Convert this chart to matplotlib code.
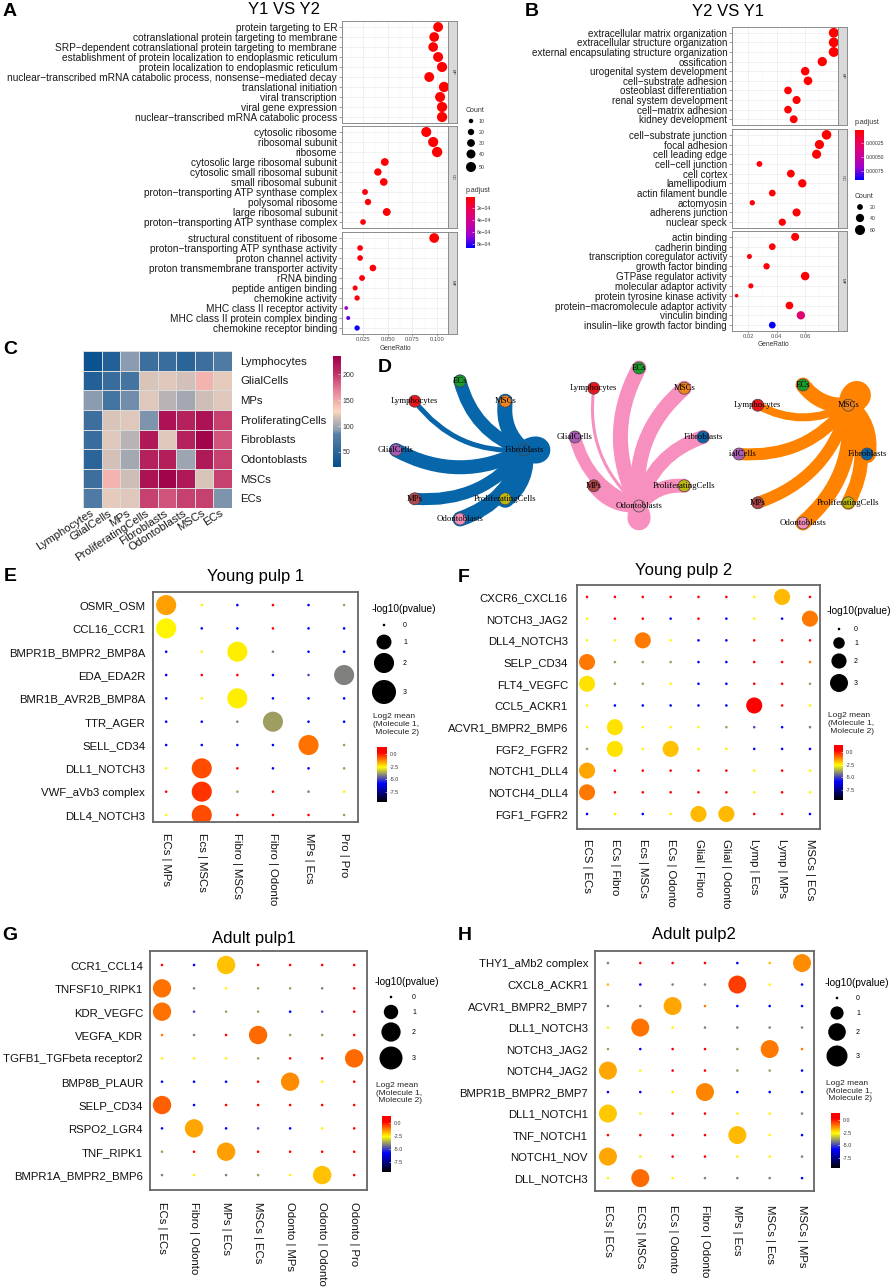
import numpy as np
import matplotlib
matplotlib.use('Agg')
import matplotlib.pyplot as plt
from matplotlib.colors import LinearSegmentedColormap, Normalize
from matplotlib.path import Path
from matplotlib.patches import PathPatch, Rectangle

plt.rcParams['font.family'] = ['Liberation Sans', 'DejaVu Sans']

W, H = 892, 1288

# ---------------- A : GO enrichment Y1 VS Y2 ----------------
a_bp_terms = ['protein targeting to ER',
              'cotranslational protein targeting to membrane',
              'SRP\u2212dependent cotranslational protein targeting to membrane',
              'establishment of protein localization to endoplasmic reticulum',
              'protein localization to endoplasmic reticulum',
              'nuclear\u2212transcribed mRNA catabolic process, nonsense\u2212mediated decay',
              'translational initiation', 'viral transcription', 'viral gene expression',
              'nuclear\u2212transcribed mRNA catabolic process']
a_bp_ratio = [0.101, 0.097, 0.096, 0.101, 0.105, 0.092, 0.107, 0.103, 0.105, 0.105]
a_bp_count = [48, 47, 46, 49, 51, 48, 53, 50, 52, 52]
a_bp_padj = [1.8e-5, 1.9e-5, 2.0e-5, 1.9e-5, 1.8e-5, 2.2e-5, 1.8e-5, 1.9e-5, 1.8e-5, 1.8e-5]

a_cc_terms = ['cytosolic ribosome', 'ribosomal subunit', 'ribosome',
              'cytosolic large ribosomal subunit', 'cytosolic small ribosomal subunit',
              'small ribosomal subunit', 'proton\u2212transporting ATP synthase complex',
              'polysomal ribosome', 'large ribosomal subunit',
              'proton\u2212transporting ATP synthase complex']
a_cc_ratio = [0.089, 0.096, 0.100, 0.047, 0.040, 0.046, 0.027, 0.030, 0.049, 0.025]
a_cc_count = [50, 51, 53, 30, 27, 29, 17, 20, 31, 16]
a_cc_padj = [1.8e-5, 1.8e-5, 1.8e-5, 2.5e-5, 3.0e-5, 2.6e-5, 4.5e-5, 4.0e-5, 2.4e-5, 5.0e-5]

a_mf_terms = ['structural constituent of ribosome', 'proton\u2212transporting ATP synthase activity',
              'proton channel activity', 'proton transmembrane transporter activity',
              'rRNA binding', 'peptide antigen binding', 'chemokine activity',
              'MHC class II receptor activity', 'MHC class II protein complex binding',
              'chemokine receptor binding']
a_mf_ratio = [0.097, 0.022, 0.022, 0.035, 0.024, 0.017, 0.019, 0.008, 0.010, 0.019]
a_mf_count = [47, 16, 16, 22, 17, 13, 14, 7, 8, 14]
a_mf_padj = [1.8e-5, 4.5e-5, 4.5e-5, 3.5e-5, 5.0e-5, 5.0e-5, 5.0e-5, 6.6e-4, 7.4e-4, 8.6e-4]

# ---------------- B : GO enrichment Y2 VS Y1 ----------------
b_bp_terms = ['extracellular matrix organization', 'extracellular structure organization',
              'external encapsulating structure organization', 'ossification',
              'urogenital system development', 'cell\u2212substrate adhesion',
              'osteoblast differentiation', 'renal system development',
              'cell\u2212matrix adhesion', 'kidney development']
b_bp_ratio = [0.080, 0.080, 0.080, 0.072, 0.060, 0.062, 0.048, 0.054, 0.048, 0.052]
b_bp_count = [57, 57, 58, 51, 43, 44, 35, 39, 35, 37]
b_bp_padj = [2.2e-5, 2.2e-5, 2.2e-5, 2.4e-5, 2.6e-5, 2.6e-5, 3.0e-5, 2.8e-5, 3.0e-5, 2.9e-5]

b_cc_terms = ['cell\u2212substrate junction', 'focal adhesion', 'cell leading edge',
              'cell\u2212cell junction', 'cell cortex', 'lamellipodium', 'actin filament bundle',
              'actomyosin', 'adherens junction', 'nuclear speck']
b_cc_ratio = [0.075, 0.070, 0.068, 0.028, 0.050, 0.058, 0.037, 0.023, 0.054, 0.044]
b_cc_count = [54, 50, 49, 20, 36, 41, 27, 17, 39, 31]
b_cc_padj = [2.2e-5, 2.3e-5, 2.3e-5, 4.0e-5, 3.0e-5, 2.8e-5, 3.5e-5, 4.5e-5, 2.9e-5, 3.3e-5]

b_mf_terms = ['actin binding', 'cadherin binding', 'transcription coregulator activity',
              'growth factor binding', 'GTPase regulator activity', 'molecular adaptor activity',
              'protein tyrosine kinase activity', 'protein\u2212macromolecule adaptor activity',
              'vinculin binding', 'insulin\u2212like growth factor binding']
b_mf_ratio = [0.053, 0.037, 0.021, 0.033, 0.060, 0.022, 0.012, 0.049, 0.057, 0.037]
b_mf_count = [38, 27, 15, 24, 43, 16, 8, 35, 41, 27]
b_mf_padj = [3.0e-5, 3.5e-5, 4.5e-5, 4.0e-5, 2.8e-5, 4.5e-5, 5.0e-5, 3.2e-5, 3.2e-4, 9.0e-4]

# ---------------- C : interaction count heatmap ----------------
cell_types = ['Lymphocytes', 'GlialCells', 'MPs', 'ProliferatingCells',
              'Fibroblasts', 'Odontoblasts', 'MSCs', 'ECs']
heat = [[25, 42, 92, 62, 60, 48, 62, 76],
        [42, 58, 68, 118, 120, 117, 145, 122],
        [92, 68, 88, 120, 108, 100, 116, 120],
        [62, 118, 120, 90, 222, 212, 222, 195],
        [60, 120, 108, 218, 120, 212, 232, 188],
        [48, 117, 100, 212, 214, 98, 218, 195],
        [62, 145, 116, 222, 232, 218, 118, 195],
        [76, 122, 120, 195, 188, 195, 195, 90]]

# ---------------- D : networks (edge width to hub, hub entry = self loop) ----------------
net_nodes = ['ECs', 'MSCs', 'Fibroblasts', 'ProliferatingCells',
             'Odontoblasts', 'MPs', 'GlialCells', 'Lymphocytes']
net_hubs = ['Fibroblasts', 'Odontoblasts', 'MSCs']
net1_w = [13, 15, 18, 18, 15, 12, 14, 5]
net2_w = [15, 15, 14, 14, 14, 13, 12, 3]
net3_w = [15, 20, 18, 14, 15, 12, 12, 8]

# ---------------- E-H : CellPhoneDB dot plots ----------------
# small dots: colour level code per cell, '.' = significant dot listed in *_sig
lvl = {'b': -5.8, 's': -4.85, 'g': -4.2, 'o': -3.8, 'y': -2.5, 'd': -1.8, 'n': -1.1, 'r': 0.3}

e_rows = ['OSMR_OSM', 'CCL16_CCR1', 'BMPR1B_BMPR2_BMP8A', 'EDA_EDA2R', 'BMR1B_AVR2B_BMP8A',
          'TTR_AGER', 'SELL_CD34', 'DLL1_NOTCH3', 'VWF_aVb3 complex', 'DLL4_NOTCH3']
e_cols = ['ECs | MPs', 'Ecs | MSCs', 'Fibro | MSCs', 'Fibro | Odonto', 'MPs | Ecs', 'Pro | Pro']
e_codes = ['. y b r b o', '. b b r b b', 'b y . g b b', 'b r r b s .', 'b y . b b b',
           'b b g . b b', 'b b b b . o', 'y . r b b o', 'r . o r g y', 'y . r r r o']
e_sig = [(0, 0, -1.5), (1, 0, -2.5), (2, 2, -2.4), (3, 5, -4.2), (4, 2, -2.4),
         (5, 3, -3.8), (6, 4, -1.0), (7, 1, -0.6), (8, 1, -0.3), (9, 1, -0.6)]
e_sig_p = 2.0

f_rows = ['CXCR6_CXCL16', 'NOTCH3_JAG2', 'DLL4_NOTCH3', 'SELP_CD34', 'FLT4_VEGFC', 'CCL5_ACKR1',
          'ACVR1_BMPR2_BMP6', 'FGF2_FGFR2', 'NOTCH1_DLL4', 'NOTCH4_DLL4', 'FGF1_FGFR2']
f_cols = ['ECS | ECs', 'ECs | Fibro', 'Ecs | MSCs', 'ECs | Odonto', 'Glial | Fibro',
          'Glial | Odonto', 'Lymp | Ecs', 'Lymp | MPs', 'MSCs | ECs']
f_codes = ['r r r r r r y . r', 'y r r b r b y b .', 'y y . y b b r r r',
           '. o o o b b r r n', '. o o y b b r r o', 'y b b b b b . r y',
           'y . y y y o s b g', 'o . y . y y b b b', '. r r r r r y r y',
           '. r r r r r y r y', 'b y b y . . r r b']
f_sig = [(0, 7, -1.8), (1, 8, -1.1), (2, 2, -1.1), (3, 0, -1.1), (4, 0, -2.3), (5, 6, 0.6),
         (6, 1, -2.3), (7, 1, -2.3), (7, 3, -1.9), (8, 0, -1.6), (9, 0, -1.1),
         (10, 4, -1.8), (10, 5, -1.8)]
f_sig_p = 2.3

g_rows = ['CCR1_CCL14', 'TNFSF10_RIPK1', 'KDR_VEGFC', 'VEGFA_KDR', 'TGFB1_TGFbeta receptor2',
          'BMP8B_PLAUR', 'SELP_CD34', 'RSPO2_LGR4', 'TNF_RIPK1', 'BMPR1A_BMPR2_BMP6']
g_cols = ['ECs | ECs', 'Fibro | Odonto', 'MPs | ECs', 'MSCs | ECs', 'Odonto | MPs',
          'Odonto | Odonto', 'Odonto | Pro']
g_codes = ['r b . r r r r', '. g y o o g r', '. s o o b s r', 'n g r . o o r',
           'y y y o r r .', 'b b b r . y r', '. b r r r r r', 'b . b s b y r',
           'o r . r r r r', 'g y g o y . r']
g_sig = [(0, 2, -1.9), (1, 0, -1.0), (2, 0, -1.0), (3, 3, -0.9), (4, 6, -0.9),
         (5, 4, -1.3), (6, 0, -0.8), (7, 1, -1.6), (8, 2, -1.5), (9, 5, -1.9)]
g_sig_p = 1.8

h_rows = ['THY1_aMb2 complex', 'CXCL8_ACKR1', 'ACVR1_BMPR2_BMP7', 'DLL1_NOTCH3', 'NOTCH3_JAG2',
          'NOTCH4_JAG2', 'BMPR1B_BMPR2_BMP7', 'DLL1_NOTCH1', 'TNF_NOTCH1', 'NOTCH1_NOV', 'DLL_NOTCH3']
h_cols = ['ECs | ECs', 'ECS | MSCs', 'ECs | Odonto', 'Fibro | Odonto', 'MPs | Ecs',
          'MSCs | Ecs', 'MSCs | MPs']
h_codes = ['g r r r b d .', 'd b g g . y b', 'g g . n b b b', 'y . y g g g g',
           'o b r r o . n', '. y r r o o b', 'b b y . b b b', '. y r r y y g',
           'r r r r . y b', '. y r r y y g', 'y . y g g g b']
h_sig = [(0, 6, -1.3), (1, 4, -0.4), (2, 2, -1.6), (3, 1, -1.0), (4, 5, -1.1), (5, 0, -1.6),
         (6, 3, -1.2), (7, 0, -2.0), (8, 4, -1.8), (9, 0, -1.6), (10, 1, -0.9)]
h_sig_p = 2.1


fig = plt.figure(figsize=(W / 100, H / 100), dpi=100)


def px_ax(x0, y0, x1, y1):
    return fig.add_axes([x0 / W, 1 - y1 / H, (x1 - x0) / W, (y1 - y0) / H])


def ftext(x, y, s, **kw):
    fig.text(x / W, 1 - y / H, s, **kw)


def d2s(d):
    # diameter in px -> scatter size in pt^2
    return (np.asarray(d) * 0.72) ** 2


def vbar(rect, cmap, vmin, vmax, ticks, labels, fs, invert=False):
    ax = px_ax(*rect)
    grad = np.linspace(vmin, vmax, 256).reshape(-1, 1)
    ax.imshow(grad, aspect='auto', cmap=cmap, vmin=vmin, vmax=vmax, origin='lower',
              extent=[0, 1, vmin, vmax])
    ax.set_ylim(vmin, vmax)
    if invert:
        ax.invert_yaxis()
    ax.set_xticks([])
    ax.yaxis.tick_right()
    ax.set_yticks(ticks)
    ax.set_yticklabels(labels, fontsize=fs)
    ax.tick_params(axis='y', direction='in', length=1.5, width=0.4, color='white',
                   labelcolor='#333333', pad=2)
    for s in ax.spines.values():
        s.set_visible(False)
    return ax


# ---------- GO dot plots (A and B) ----------
padj_cmap = LinearSegmentedColormap.from_list(
    'padj', ['#FF0000', '#EC0059', '#CF0098', '#A000D0', '#0000FF'])


def go_block(x0, x1, facets, strips, terms, ratios, counts, padj, xlim, major, major_lab,
             minor, norm, k, fs):
    for i, (y0, y1) in enumerate(facets):
        ax = px_ax(x0, y0, x1, y1)
        n = len(terms[i])
        ax.set_xlim(*xlim)
        ax.set_ylim(n - 0.4, -0.6)
        ax.set_xticks(major)
        ax.set_xticks(minor, minor=True)
        ax.set_yticks(range(n))
        ax.grid(True, which='major', color='#EBEBEB', lw=0.5)
        ax.grid(True, which='minor', axis='x', color='#F2F2F2', lw=0.3)
        ax.set_axisbelow(True)
        ax.scatter(ratios[i], range(n), s=d2s(k * np.sqrt(counts[i])), c=padj[i],
                   cmap=padj_cmap, norm=norm, linewidths=0, zorder=3)
        ax.set_yticklabels(terms[i], fontsize=fs, color='#1A1A1A')
        ax.tick_params(axis='y', length=2, width=0.4, color='#555555', pad=1.5)
        ax.tick_params(axis='x', which='minor', length=0)
        if i == len(facets) - 1:
            ax.set_xticklabels(major_lab, fontsize=4.2, color='#4D4D4D')
            ax.tick_params(axis='x', length=1.5, width=0.4, color='#555555', pad=1)
        else:
            ax.tick_params(axis='x', length=0, labelbottom=False)
        for s in ax.spines.values():
            s.set_color('#8C8C8C')
            s.set_linewidth(0.7)
        st = px_ax(x1, y0, x1 + 9, y1)
        st.set_facecolor('#D9D9D9')
        st.set_xticks([])
        st.set_yticks([])
        for s in st.spines.values():
            s.set_color('#8C8C8C')
            s.set_linewidth(0.7)
        st.text(0.5, 0.5, strips[i], rotation=270, ha='center', va='center',
                fontsize=3.2, color='#333333', transform=st.transAxes)


a_norm = Normalize(1.7e-5, 8.7e-4)
go_block(342, 448, [(21, 123), (126, 228), (232, 334)], ['BP', 'CC', 'MF'],
         [a_bp_terms, a_cc_terms, a_mf_terms], [a_bp_ratio, a_cc_ratio, a_mf_ratio],
         [a_bp_count, a_cc_count, a_mf_count], [a_bp_padj, a_cc_padj, a_mf_padj],
         (0.0037, 0.111), [0.025, 0.05, 0.075, 0.1], ['0.025', '0.050', '0.075', '0.100'],
         [0.0125, 0.0375, 0.0625, 0.0875], a_norm, 1.42, 7.3)
ftext(395, 349, 'GeneRatio', fontsize=4.8, color='#333333', ha='center', va='center')
ftext(284, 9, 'Y1 VS Y2', fontsize=12, ha='center', va='center')

b_norm = Normalize(2e-5, 9.1e-4)
go_block(732, 838, [(27, 125), (129, 228), (231, 331)], ['BP', 'CC', 'MF'],
         [b_bp_terms, b_cc_terms, b_mf_terms], [b_bp_ratio, b_cc_ratio, b_mf_ratio],
         [b_bp_count, b_cc_count, b_mf_count], [b_bp_padj, b_cc_padj, b_mf_padj],
         (0.0088, 0.083), [0.02, 0.04, 0.06], ['0.02', '0.04', '0.06'],
         [0.01, 0.03, 0.05, 0.07], b_norm, 1.3, 7.1)
ftext(773, 345, 'GeneRatio', fontsize=4.8, color='#333333', ha='center', va='center')
ftext(728, 11, 'Y2 VS Y1', fontsize=12, ha='center', va='center')

# legends of A and B
ftext(466, 110, 'Count', fontsize=5, color='#333333', va='center')
ftext(466, 190, 'p.adjust', fontsize=5, color='#333333', va='center')
vbar((466, 197, 474, 248), padj_cmap, 1.7e-5, 8.7e-4, [2e-4, 4e-4, 6e-4, 8e-4],
     ['2e\u221204', '4e\u221204', '6e\u221204', '8e\u221204'], 3.6, invert=True)
ftext(855, 123, 'p.adjust', fontsize=5, color='#333333', va='center')
vbar((855, 130, 863, 180), padj_cmap, 2e-5, 9.1e-4, [0.00025, 0.0005, 0.00075],
     ['0.00025', '0.00050', '0.00075'], 3.6, invert=True)
ftext(855, 196, 'Count', fontsize=5, color='#333333', va='center')

# ---------- C heatmap ----------
heat_cmap = LinearSegmentedColormap.from_list(
    'heat', [(0.0, '#06508F'), (0.3, '#5B81A6'), (0.33, '#8C9CB0'), (0.44, '#CDBDB8'),
             (0.5, '#FCD8BF'), (0.68, '#E8879C'), (0.85, '#BE2F64'), (1.0, '#A0004A')])
hax = px_ax(83, 351, 232, 508)
hax.pcolormesh(np.array(heat), cmap=heat_cmap, vmin=21, vmax=235,
               edgecolors='#DADADA', linewidth=0.6)
hax.set_xlim(0, 8)
hax.set_ylim(8, 0)
hax.set_xticks(np.arange(8) + 0.5)
hax.set_xticklabels(cell_types, rotation=33, ha='right', va='center',
                    rotation_mode='anchor', fontsize=8.1, color='#1A1A1A')
hax.yaxis.tick_right()
hax.set_yticks(np.arange(8) + 0.5)
hax.set_yticklabels(cell_types, fontsize=8.2, color='#1A1A1A')
hax.tick_params(length=0, pad=6)
hax.tick_params(axis='x', pad=3)
for s in hax.spines.values():
    s.set_visible(False)
vbar((333, 356, 340, 467), heat_cmap, 21, 235, [50, 100, 150, 200],
     ['50', '100', '150', '200'], 5)

# ---------- E-H dot plots ----------
cpdb_cmap = LinearSegmentedColormap.from_list(
    'cpdb', [(0, 'black'), (0.339, 'blue'), (0.633, 'yellow'), (0.899, 'red'), (1, 'red')])
cpdb_norm = Normalize(-9.5, 1.4)
dmin = 2.6


def dot_panel(box, rows, cols, codes, sig, sig_p, xlim, ylim, dmax, ypad, xpad):
    ax = px_ax(*box)
    xs, ys, ms, ps = [], [], [], []
    for j, row in enumerate(codes):
        for i, ch in enumerate(row.split()):
            if ch == '.':
                continue
            xs.append(i)
            ys.append(j)
            ms.append(lvl[ch])
            ps.append(0.0)
    for j, i, m in sig:
        xs.append(i)
        ys.append(j)
        ms.append(m)
        ps.append(sig_p)
    d = dmin + (dmax - dmin) * np.sqrt(np.array(ps) / 3)
    ax.scatter(xs, ys, s=d2s(d), c=ms, cmap=cpdb_cmap, norm=cpdb_norm, linewidths=0)
    ax.set_xlim(*xlim)
    ax.set_ylim(*ylim)
    ax.set_xticks(range(len(cols)))
    ax.set_xticklabels(cols, rotation=270, fontsize=8.2, color='#111111')
    ax.set_yticks(range(len(rows)))
    ax.set_yticklabels(rows, fontsize=8.2, color='#111111')
    ax.tick_params(axis='y', length=0, pad=ypad)
    ax.tick_params(axis='x', length=0, pad=xpad)
    for s in ax.spines.values():
        s.set_color('#666666')
        s.set_linewidth(1.3)


def dot_legend(ov, x_title, y_title, x_dot, y_dots, x_lab, dmax, y_log2, bar_rect):
    ov.text(x_title, y_title, '-log10(pvalue)', fontsize=7.3, ha='left', va='center')
    vals = [0, 1, 2, 3]
    d = dmin + (dmax - dmin) * np.sqrt(np.array(vals) / 3)
    ov.scatter([x_dot] * 4, y_dots, s=d2s(d), c='black', linewidths=0)
    for v, y in zip(vals, y_dots):
        ov.text(x_lab, y, str(v), fontsize=5, ha='left', va='center')
    ov.text(x_title + 1, y_log2, 'Log2 mean\n(Molecule 1,\n Molecule 2)', fontsize=6,
            ha='left', va='top', linespacing=1.15, color='#222222')
    vbar(bar_rect, cpdb_cmap, -9.5, 1.4, [0, -2.5, -5, -7.5],
         ['0.0', '-2.5', '-5.0', '-7.5'], 3.8)


dot_panel((153, 592, 358, 822), e_rows, e_cols, e_codes, e_sig, e_sig_p,
          (-0.37, 5.39), (9.3, -0.56), 24, 5.5, 8)
dot_panel((577, 585, 820, 829), f_rows, f_cols, f_codes, f_sig, f_sig_p,
          (-0.36, 8.36), (10.69, -0.55), 18, 6.5, 7)
dot_panel((150, 951, 367, 1190), g_rows, g_cols, g_codes, g_sig, g_sig_p,
          (-0.375, 6.4), (9.64, -0.6), 23, 5, 8.5)
dot_panel((595, 951, 814, 1191), h_rows, h_cols, h_codes, h_sig, h_sig_p,
          (-0.4, 6.37), (10.6, -0.56), 21, 5, 10)

ftext(256, 577, 'Young pulp 1', fontsize=12, ha='center', va='center')
ftext(684, 570, 'Young pulp 2', fontsize=12, ha='center', va='center')
ftext(254, 938, 'Adult pulp1', fontsize=12, ha='center', va='center')
ftext(694, 934, 'Adult pulp2', fontsize=12, ha='center', va='center')

# ---------- overlay in pixel coordinates: legends dots + networks ----------
ov = fig.add_axes([0, 0, 1, 1], zorder=5)
ov.set_xlim(0, W)
ov.set_ylim(H, 0)
ov.axis('off')
ov.patch.set_alpha(0)

# A / B count legends
a_leg_counts = [10, 20, 30, 40, 50]
ov.scatter([471] * 5, [121, 132, 143, 154, 167], s=d2s(1.42 * np.sqrt(a_leg_counts)),
           c='black', linewidths=0)
for c, y in zip(a_leg_counts, [121, 132, 143, 154, 167]):
    ov.text(479, y, str(c), fontsize=3.8, color='#333333', va='center')
b_leg_counts = [20, 40, 60]
ov.scatter([860] * 3, [207, 218, 230], s=d2s(1.3 * np.sqrt(b_leg_counts)),
           c='black', linewidths=0)
for c, y in zip(b_leg_counts, [207, 218, 230]):
    ov.text(870, y, str(c), fontsize=3.8, color='#333333', va='center')

dot_legend(ov, 372, 609, 384, [625, 642, 663, 692], 403, 24, 713, (377, 747, 387, 802))
dot_legend(ov, 827, 611, 839, [629, 643, 661, 683], 854, 18, 712, (834, 745, 843, 800))
dot_legend(ov, 375, 982, 391, [997, 1012, 1032, 1058], 412, 23, 1082, (382, 1116, 391, 1172))
dot_legend(ov, 825, 983, 837, [998, 1013, 1032, 1056], 856, 21, 1080, (831, 1113, 840, 1168))

# D networks
node_cols = ['#1E9B2E', '#F0841C', '#0B63A8', '#BDB70F', '#F28DB9', '#B2474B', '#A85DB5', '#E8161C']
node_ang = [90, 45, 0, -45, -90, -135, 180, 135]
net_centers = [(460, 450), (639, 437), (803, 454)]
net_cols = ['#0765AA', '#F78FBF', '#FF8200']
loop_dir = [0, -90, 50]
rx, ry = 64, 69


def edge(p, q, w, col, c=0.27):
    mx, my = (p[0] + q[0]) / 2, (p[1] + q[1]) / 2
    dx, dy = q[0] - p[0], q[1] - p[1]
    ctrl = (mx - c * dy, my + c * dx)
    path = Path([p, ctrl, q], [Path.MOVETO, Path.CURVE3, Path.CURVE3])
    return ov.add_patch(PathPatch(path, fc='none', ec=col, lw=w * 0.72,
                                  capstyle='round', joinstyle='round', zorder=2))


def self_loop(p, ang, w, col, L=28):
    a = np.deg2rad(ang)
    c1 = (p[0] + L * np.cos(a + 0.6), p[1] - L * np.sin(a + 0.6))
    c2 = (p[0] + L * np.cos(a - 0.6), p[1] - L * np.sin(a - 0.6))
    path = Path([p, c1, c2, p], [Path.MOVETO, Path.CURVE4, Path.CURVE4, Path.CURVE4])
    return ov.add_patch(PathPatch(path, fc=col, ec=col, lw=w * 0.72,
                                  capstyle='round', joinstyle='round', zorder=2))


# third network picture is cut on its left side
clip3 = Rectangle((729, 300), 200, 300, transform=ov.transData)

for k, weights in enumerate([net1_w, net2_w, net3_w]):
    cx, cy = net_centers[k]
    pos = [(cx + rx * np.cos(np.deg2rad(a)), cy - ry * np.sin(np.deg2rad(a))) for a in node_ang]
    hub = net_nodes.index(net_hubs[k])
    arts = []
    for i, w in enumerate(weights):
        if i == hub:
            arts.append(self_loop(pos[hub], loop_dir[k], w, net_cols[k]))
        else:
            arts.append(edge(pos[i], pos[hub], w, net_cols[k]))
    arts.append(ov.scatter([p[0] for p in pos], [p[1] for p in pos], s=d2s(12), c=node_cols,
                           edgecolors='#444444', linewidths=0.5, zorder=3))
    for i, name in enumerate(net_nodes):
        arts.append(ov.text(pos[i][0], pos[i][1], name, fontsize=6.3,
                            family='Liberation Serif', ha='center', va='center', zorder=4))
    if k == 2:
        for a in arts:
            a.set_clip_on(True)
            a.set_clip_path(clip3)

# panel letters
for lab, x, y in [('A', 10, 12), ('B', 532, 12), ('C', 10, 349), ('D', 385, 368),
                  ('E', 10, 577), ('F', 464, 578), ('G', 10, 935), ('H', 465, 935)]:
    ftext(x, y, lab, fontsize=14, fontweight='bold', ha='center', va='center')

fig.savefig('out.png', dpi=100)
